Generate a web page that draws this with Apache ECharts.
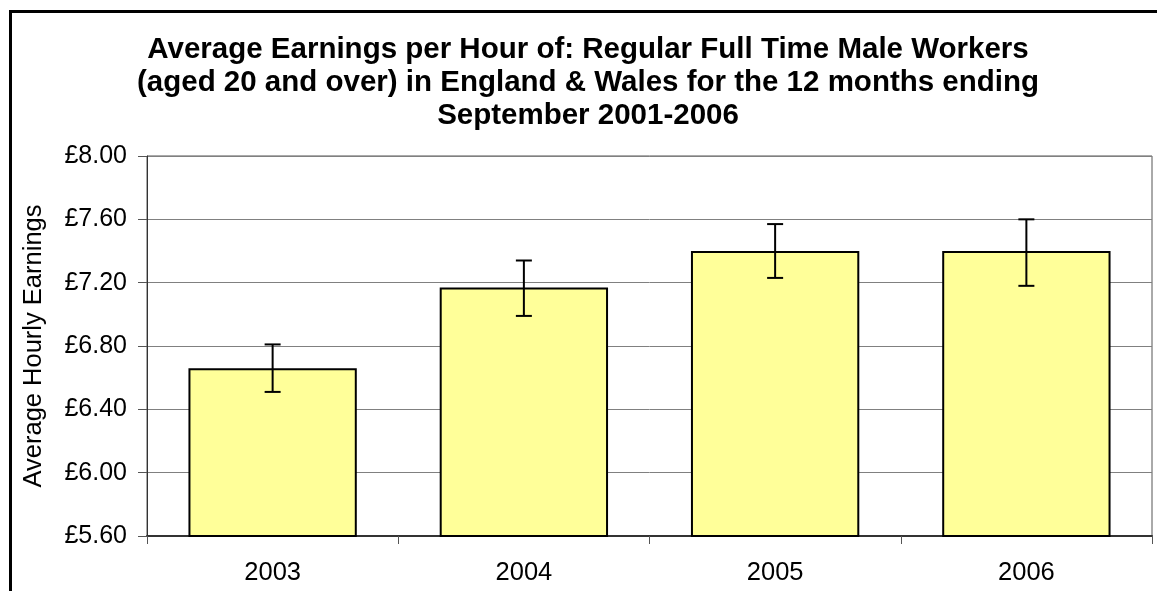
<!DOCTYPE html>
<html>
<head>
<meta charset="utf-8">
<script src="https://cdn.jsdelivr.net/npm/echarts@6/dist/echarts.min.js"></script>
<style>
html,body{margin:0;padding:0;background:#fff;}
#chart{width:1157px;height:591px;}
</style>
</head>
<body>
<div id="chart"></div>
<script>
const titleText = 'Average Earnings per Hour of: Regular Full Time Male Workers\n(aged 20 and over) in England & Wales for the 12 months ending\nSeptember 2001-2006';
const yAxisName = 'Average Hourly Earnings';
const years = ['2003', '2004', '2005', '2006'];
const earnings = [6.66, 7.17, 7.40, 7.40];
const errLow = [6.51, 6.99, 7.23, 7.18];
const errHigh = [6.81, 7.34, 7.57, 7.60];
const yTicks = [5.6, 6.0, 6.4, 6.8, 7.2, 7.6, 8.0];

const FONT = "'Liberation Sans', Arial, sans-serif";
const chart = echarts.init(document.getElementById('chart'), null, {renderer: 'canvas'});

const errData = years.map((y, i) => [i, errLow[i], errHigh[i]]);

const option = {
  backgroundColor: '#fff',
  animation: false,
  title: {
    text: titleText,
    left: 588,
    textAlign: 'center',
    top: 33,
    padding: 0,
    textStyle: {
      fontFamily: FONT,
      fontWeight: 'bold',
      fontSize: 29.5,
      lineHeight: 33,
      color: '#000'
    }
  },
  graphic: [{
    type: 'rect',
    z: -10,
    shape: {x: 10.5, y: 11.5, width: 1400, height: 800},
    style: {fill: 'none', stroke: '#000', lineWidth: 3}
  }],
  grid: {
    left: 147, top: 156, right: 5, bottom: 55,
    show: true, borderColor: '#555', borderWidth: 1, backgroundColor: 'transparent'
  },
  xAxis: {
    type: 'category',
    data: years,
    axisLine: {show: true, lineStyle: {color: '#333', width: 2}},
    axisTick: {show: true, alignWithLabel: false, length: 8, lineStyle: {color: '#555'}},
    axisLabel: {fontFamily: FONT, fontSize: 25.5, color: '#000', margin: 24},
    splitLine: {show: false}
  },
  yAxis: {
    type: 'value',
    min: yTicks[0],
    max: yTicks[yTicks.length - 1],
    interval: 0.4,
    name: yAxisName,
    nameLocation: 'middle',
    nameRotate: 90,
    nameGap: 100,
    nameTextStyle: {fontFamily: FONT, fontSize: 25.5, color: '#000'},
    axisLine: {show: true, lineStyle: {color: '#333', width: 1}},
    axisTick: {show: true, inside: false, length: 9, lineStyle: {color: '#555'}},
    axisLabel: {fontFamily: FONT, fontSize: 25, color: '#000', margin: 20,
      formatter: v => '£' + v.toFixed(2)},
    splitLine: {show: true, lineStyle: {color: '#808080', width: 1}}
  },
  series: [{
    type: 'bar',
    data: earnings,
    barCategoryGap: '33%',
    itemStyle: {color: '#FFFF99', borderColor: '#000', borderWidth: 2},
    z: 2
  }, {
    type: 'custom',
    data: errData,
    z: 5,
    renderItem: function (params, api) {
      const x = api.value(0);
      const lo = api.coord([x, api.value(1)]);
      const hi = api.coord([x, api.value(2)]);
      const hw = 8;
      const st = {stroke: '#000', lineWidth: 2};
      return {
        type: 'group',
        children: [
          {type: 'line', shape: {x1: hi[0], y1: hi[1], x2: lo[0], y2: lo[1]}, style: st},
          {type: 'line', shape: {x1: hi[0] - hw, y1: hi[1], x2: hi[0] + hw, y2: hi[1]}, style: st},
          {type: 'line', shape: {x1: lo[0] - hw, y1: lo[1], x2: lo[0] + hw, y2: lo[1]}, style: st}
        ]
      };
    }
  }]
};
chart.setOption(option);
</script>
</body>
</html>
